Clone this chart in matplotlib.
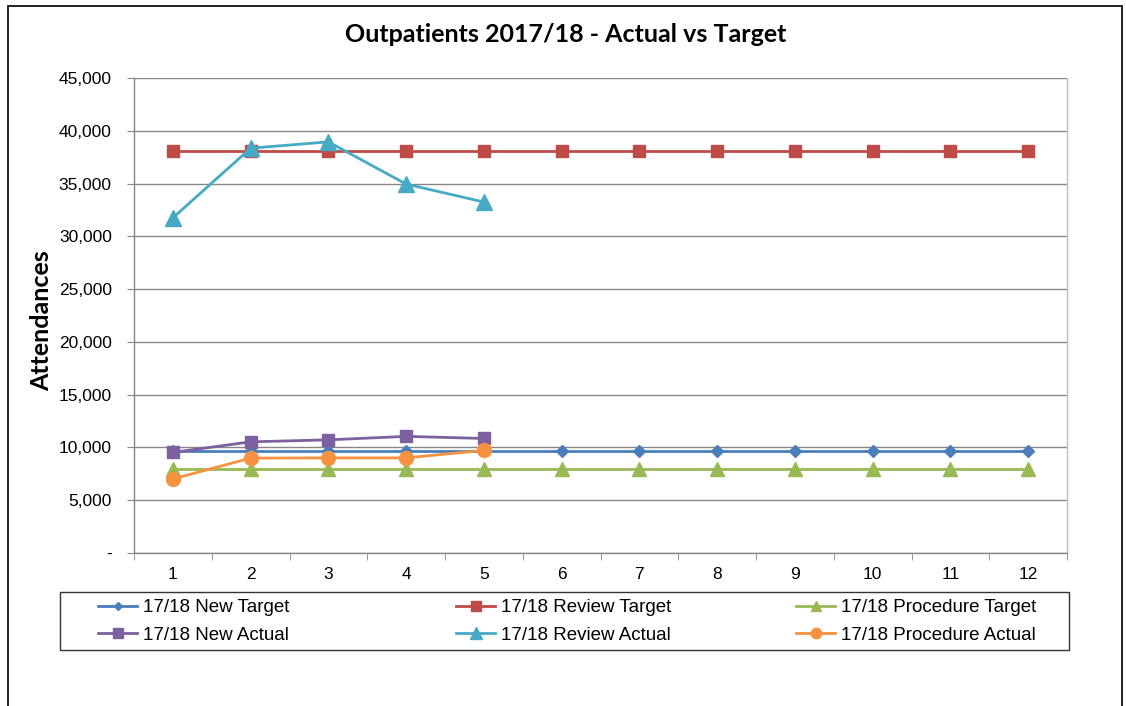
import matplotlib
matplotlib.use("Agg")
import matplotlib.pyplot as plt
from matplotlib.patches import Rectangle
from matplotlib.ticker import FixedLocator, FuncFormatter

# ---- data ----
months = [1, 2, 3, 4, 5, 6, 7, 8, 9, 10, 11, 12]
months_actual = [1, 2, 3, 4, 5]
new_target = [9700] * 12
review_target = [38100] * 12
procedure_target = [8000] * 12
new_actual = [9530, 10530, 10720, 11050, 10850]
review_actual = [31750, 38350, 38950, 34950, 33250]
procedure_actual = [7010, 8990, 9010, 9010, 9720]

title = "Outpatients 2017/18 - Actual vs Target"
ylabel = "Attendances"
yticks = [0, 5000, 10000, 15000, 20000, 25000, 30000, 35000, 40000, 45000]

W, H = 1126, 706
fig = plt.figure(figsize=(W / 100, H / 100), dpi=100)
fig.patch.set_facecolor("white")

def fx(px):
    return px / W

def fy(py):
    return 1 - py / H

ax = fig.add_axes([fx(134), fy(553), fx(1067) - fx(134), fy(78) - fy(553)])

lw = 2.0
s_new_t, = ax.plot(months, new_target, color="#4A7EBB", lw=lw, marker="D", ms=6,
                   label="17/18 New Target", zorder=3)
s_rev_t, = ax.plot(months, review_target, color="#BE4B48", lw=lw, marker="s", ms=9,
                   label="17/18 Review Target", zorder=3)
s_proc_t, = ax.plot(months, procedure_target, color="#98B954", lw=lw, marker="^", ms=10,
                    label="17/18 Procedure Target", zorder=3)
s_new_a, = ax.plot(months_actual, new_actual, color="#7D60A0", lw=lw, marker="s", ms=9,
                   label="17/18 New Actual", zorder=4)
s_rev_a, = ax.plot(months_actual, review_actual, color="#46AAC5", lw=lw, marker="^", ms=11,
                   label="17/18 Review Actual", zorder=4)
s_proc_a, = ax.plot(months_actual, procedure_actual, color="#F69240", lw=lw, marker="o", ms=10,
                    label="17/18 Procedure Actual", zorder=4)

ax.yaxis.set_major_locator(FixedLocator(yticks))
ax.yaxis.set_major_formatter(FuncFormatter(lambda v, p: "-" if v == 0 else f"{int(v):,}"))
ax.set_xticks(months)
ax.set_xticks([m + 0.5 for m in [0] + months], minor=True)
ax.set_xlim(0.5, 12.5)
ax.set_ylim(0, 45000)
ax.tick_params(axis="x", which="major", length=0, pad=10, labelsize=12.5)
ax.tick_params(axis="x", which="minor", length=5, color="#868686", direction="out")
ax.tick_params(axis="y", which="major", length=5, color="#868686", pad=11, labelsize=12.5)
for lab in ax.get_xticklabels() + ax.get_yticklabels():
    lab.set_fontfamily("Liberation Sans")

ax.grid(axis="y", color="#868686", lw=1.0)
ax.set_axisbelow(True)
ax.spines["top"].set_visible(False)
ax.spines["right"].set_color("#BFBFBF")
ax.spines["left"].set_color("#868686")
ax.spines["bottom"].set_color("#868686")
for sp in ax.spines.values():
    sp.set_linewidth(1.0)

fig.text(fx(566), fy(35), title, ha="center", va="center", fontsize=18,
         fontweight="bold", family="Lato")
fig.text(fx(42), fy(321), ylabel, ha="center", va="center", rotation=90,
         fontsize=18, fontweight="bold", family="Lato")

# legend (three columns placed at the reference positions)
cols = [([s_new_t, s_new_a], 98), ([s_rev_t, s_rev_a], 456), ([s_proc_t, s_proc_a], 796)]
for handles, xpx in cols:
    leg = fig.legend(handles=handles, loc="upper left",
                     bbox_to_anchor=(fx(xpx), fy(599)), frameon=False,
                     prop={"family": "Liberation Sans", "size": 13.5},
                     handlelength=2.1, handletextpad=0.3, labelspacing=0.55,
                     borderpad=0, borderaxespad=0, markerscale=0.75)

fig.patches.append(Rectangle((fx(60), fy(650)), fx(1069) - fx(60), fy(592) - fy(650),
                             transform=fig.transFigure, fill=False,
                             edgecolor="#333333", lw=1.0))
# outer chart frame
fig.patches.append(Rectangle((fx(8), fy(720)), fx(1122) - fx(8), fy(6) - fy(720),
                             transform=fig.transFigure, fill=False,
                             edgecolor="#111111", lw=1.3, clip_on=False))

fig.savefig("out.png", dpi=100)
